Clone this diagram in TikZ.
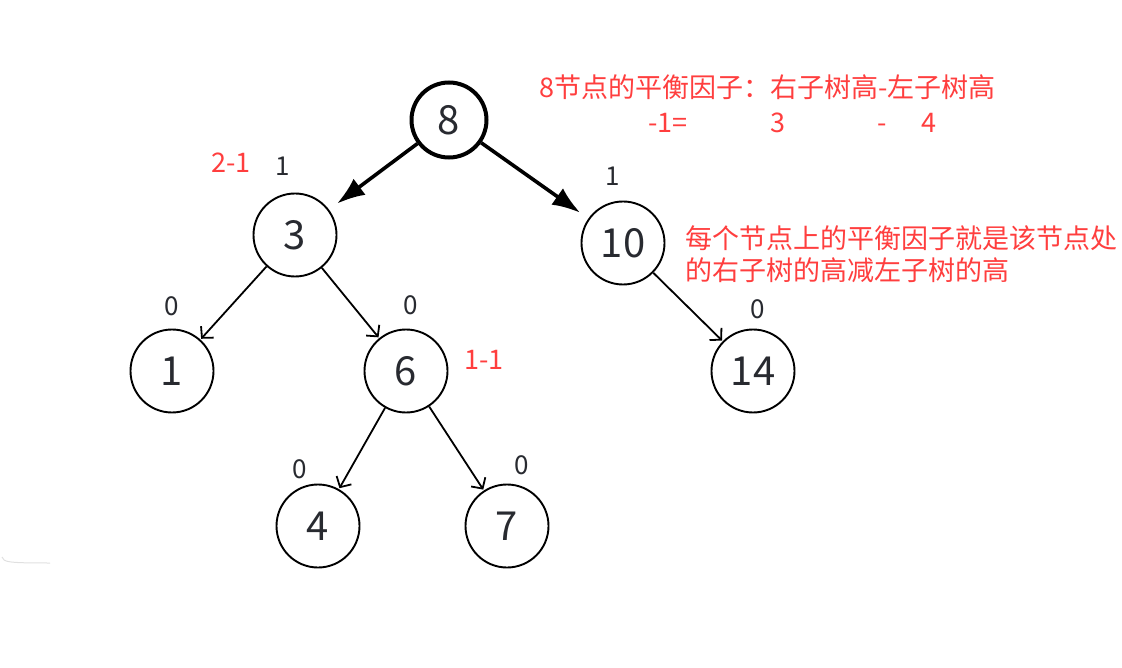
\documentclass[tikz,border=0pt]{standalone}
\usepackage{fontspec}
\setmainfont{Noto Sans CJK SC}
\usetikzlibrary{arrows.meta}
\definecolor{notered}{RGB}{255,62,62}
\definecolor{digitgray}{RGB}{40,42,48}

\begin{document}
\begin{tikzpicture}[x=1pt, y=-1pt,
      treenode/.style={draw, circle, line width=1.9pt, minimum size=83pt,
        inner sep=0pt, font=\fontsize{40}{40}\selectfont, text=digitgray},
      rootnode/.style={treenode, line width=4pt, minimum size=75pt},
      bal/.style={font=\fontsize{26}{26}\selectfont, text=digitgray},
      note/.style={font=\fontsize{27}{32}\selectfont, text=notered, align=left},
      edge/.style={line width=1.8pt,
        -{Straight Barb[length=8pt, width=17pt, line width=1.8pt]}, shorten >=1pt},
      bigedge/.style={line width=3.6pt, -{Latex[length=28pt, width=20pt]},
        shorten >=10pt}]
    \useasboundingbox (0,0) rectangle (1122,668);
    % tree
    \node[rootnode] (n8) at (449,120) {8};
    \node[treenode] (n3) at (295,235) {3};
    \node[treenode] (n10) at (623,243) {10};
    \node[treenode] (n1) at (172,371) {1};
    \node[treenode] (n6) at (406,371) {6};
    \node[treenode] (n14) at (753,371) {14};
    \node[treenode] (n4) at (318,526) {4};
    \node[treenode] (n7) at (507,526) {7};
    \draw[bigedge] (n8) -- (n3);
    \draw[bigedge] (n8) -- (n10);
    \foreach \a/\b in {n3/n1, n3/n6, n6/n4, n6/n7, n10/n14} {
      \draw[edge] (\a) -- (\b);
    }
    % balance factors
    \node[bal] (b3) at (283,166) {1};
    \node[bal] (b10) at (613,176) {1};
    \node[bal] (b1) at (172,306) {0};
    \node[bal] (b6) at (411,305) {0};
    \node[bal] (b14) at (758,309) {0};
    \node[bal] (b4) at (300,469) {0};
    \node[bal] (b7) at (522,465) {0};
    \node[note] (h3) at (231,163) {2-1};
    \node[note] (h6) at (484,360) {1-1};
    % notes
    \node[note, anchor=west, inner sep=0pt] (rule) at (539,87)
      {8节点的平衡因子：右子树高-左子树高};
    \node[note, anchor=west, inner sep=0pt] (calc) at (648,123)
      {-1=\hspace{83pt}3\hspace{92pt}-\hspace{35pt}4};
    \node[note, anchor=west, inner sep=0pt] (desc) at (685,254)
      {每个节点上的平衡因子就是该节点处\\的右子树的高减左子树的高};
    \draw[black!12, line width=1pt] (2,557) .. controls (4,562) and (6,563) .. (50,563);
  \end{tikzpicture}
\end{document}
